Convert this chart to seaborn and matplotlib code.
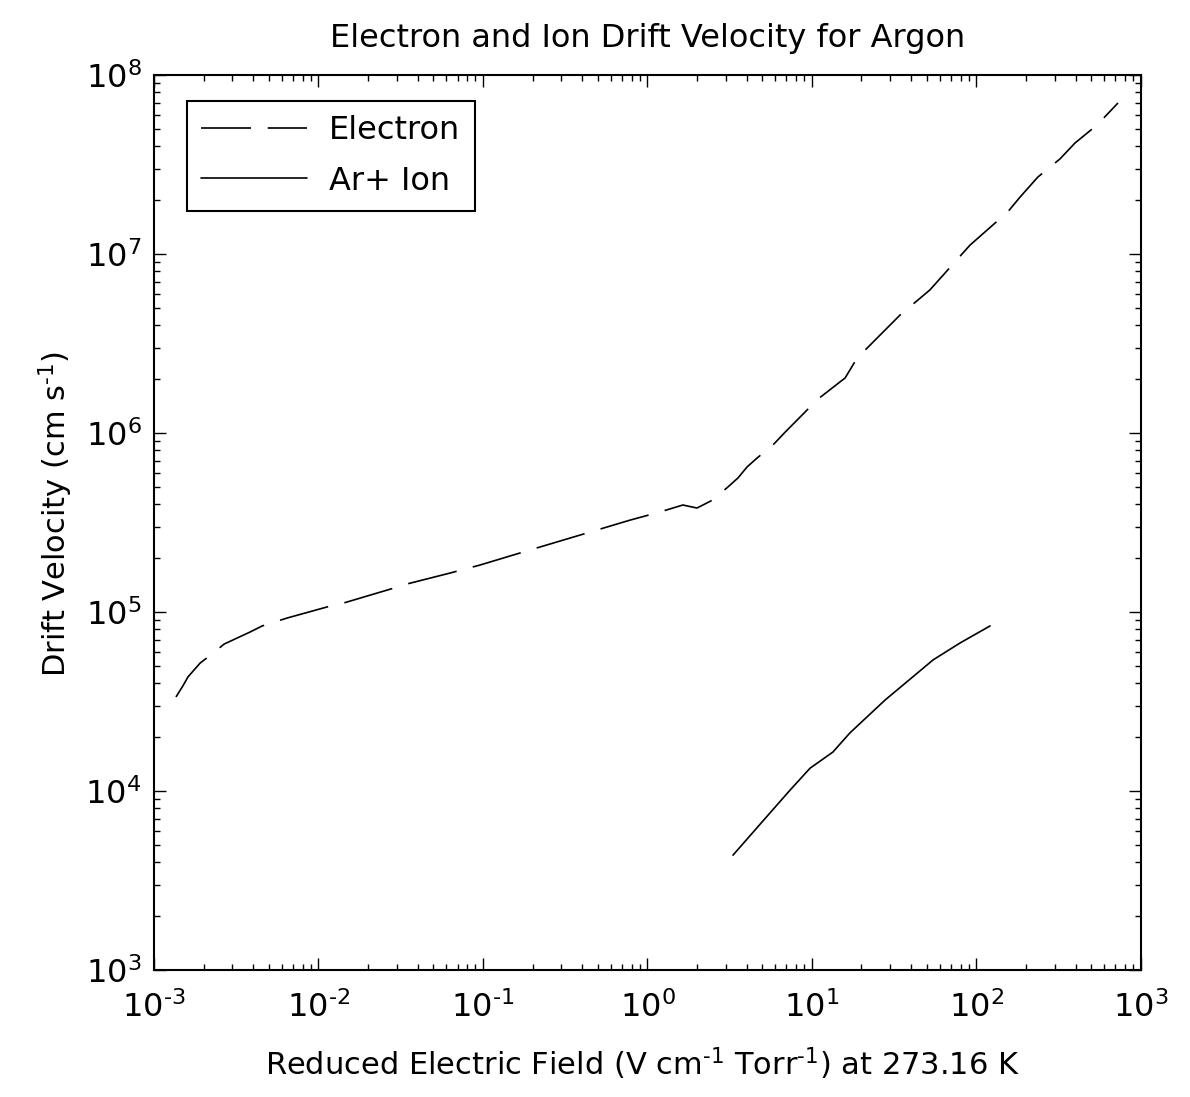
import numpy as np
import pandas as pd
import matplotlib
matplotlib.use('Agg')
import matplotlib.pyplot as plt
import matplotlib.ticker as mticker
import seaborn as sns

sns.set_style('ticks')
plt.rcParams['font.family'] = ['DejaVu Sans']
plt.rcParams['mathtext.fontset'] = 'dejavusans'
plt.rcParams['mathtext.default'] = 'regular'
plt.rcParams['lines.scale_dashes'] = False
plt.rcParams['text.color'] = 'black'
plt.rcParams['axes.labelcolor'] = 'black'

# predkosc dryfu elektronow w argonie
electron_field = [1.36e-3, 1.50e-3, 1.61e-3, 1.91e-3, 2.25e-3, 2.67e-3, 3.84e-3, 4.54e-3,
                  6.44e-3, 1.14e-2, 1.41e-2, 2.72e-2, 3.41e-2, 6.3e-2, 9.6e-2, 0.193,
                  0.389, 0.783, 1.19, 1.64, 2.0, 2.5, 3.08, 3.55, 4.03, 4.63, 5.79,
                  6.86, 9.08, 10.7, 15.9, 18.8, 34.3, 52.1, 91.2, 155, 184, 236, 322,
                  397, 541, 725]
electron_velocity = [3.35e4, 3.87e4, 4.34e4, 5.19e4, 5.82e4, 6.62e4, 7.73e4, 8.35e4,
                     9.25e4, 1.07e5, 1.12e5, 1.34e5, 1.43e5, 1.65e5, 1.83e5, 2.22e5,
                     2.69e5, 3.26e5, 3.62e5, 3.96e5, 3.81e5, 4.23e5, 4.99e5, 5.61e5,
                     6.46e5, 7.24e5, 8.57e5, 1.01e6, 1.31e6, 1.53e6, 2.03e6, 2.62e6,
                     4.56e6, 6.30e6, 1.12e7, 1.72e7, 2.08e7, 2.69e7, 3.40e7, 4.17e7,
                     5.26e7, 6.98e7]

# jony Ar+
ion_field = [3.31, 4.97, 7.35, 9.73, 13.4, 17.0, 27.8, 54.5, 79.4, 121]
ion_velocity = [4.38e3, 6.71e3, 1.01e4, 1.34e4, 1.65e4, 2.11e4, 3.22e4, 5.40e4, 6.71e4, 8.36e4]

# dekady na osiach
x_decades = [-3, -2, -1, 0, 1, 2, 3]
y_decades = [3, 4, 5, 6, 7, 8]

df_e = pd.DataFrame({'field': electron_field, 'velocity': electron_velocity})
df_i = pd.DataFrame({'field': ion_field, 'velocity': ion_velocity})

fig = plt.figure(figsize=(11.9, 10.97), dpi=100)
ax = fig.add_axes([0.1294, 0.1158, 0.8294, 0.8158])

sns.lineplot(data=df_e, x='field', y='velocity', ax=ax, color='black', lw=1.2,
             estimator=None, sort=False, label='Electron')
ax.lines[-1].set_dashes((36, 12))
sns.lineplot(data=df_i, x='field', y='velocity', ax=ax, color='black', lw=1.2,
             estimator=None, sort=False, label='Ar+ Ion')

ax.set(xscale='log', yscale='log', xlim=(1e-3, 1e3), ylim=(1e3, 1e8))
ax.set_xticks([10.0 ** d for d in x_decades])
ax.set_yticks([10.0 ** d for d in y_decades])
ax.set_xlim(1e-3, 1e3)
ax.set_ylim(1e3, 1e8)


def pow10(v, pos):
    e = int(round(np.log10(v)))
    return r'$10^{\text{%d}}$' % e


ax.xaxis.set_major_formatter(mticker.FuncFormatter(pow10))
ax.yaxis.set_major_formatter(mticker.FuncFormatter(pow10))
ax.xaxis.set_minor_formatter(mticker.NullFormatter())
ax.yaxis.set_minor_formatter(mticker.NullFormatter())

ax.set_title('Electron and Ion Drift Velocity for Argon', fontsize=23, pad=20)
ax.set_xlabel(r'Reduced Electric Field (V cm$^{\text{-1}}$ Torr$^{\text{-1}}$) at 273.16 K',
              fontsize=22)
ax.xaxis.set_label_coords(0.495, -0.084)
ax.set_ylabel(r'Drift Velocity (cm s$^{\text{-1}}$)', fontsize=22)
ax.yaxis.set_label_coords(-0.08, 0.51)

ax.tick_params(which='both', direction='in', top=True, right=True, colors='black')
ax.tick_params(which='major', length=8.5, width=1.0, labelsize=23)
ax.tick_params(axis='x', which='major', pad=15)
ax.tick_params(axis='y', which='major', pad=9)
ax.tick_params(which='minor', length=4.5, width=1.0)
for s in ax.spines.values():
    s.set_linewidth(1.5)
    s.set_color('black')

leg = ax.legend(loc='upper left', bbox_to_anchor=(0.0334, 0.971), borderaxespad=0,
                fontsize=23, handlelength=3.3, handletextpad=0.7, labelspacing=0.6,
                borderpad=0.45, fancybox=False, framealpha=1, edgecolor='black')
leg.get_frame().set_linewidth(1.5)

fig.savefig('out.png', dpi=100)
